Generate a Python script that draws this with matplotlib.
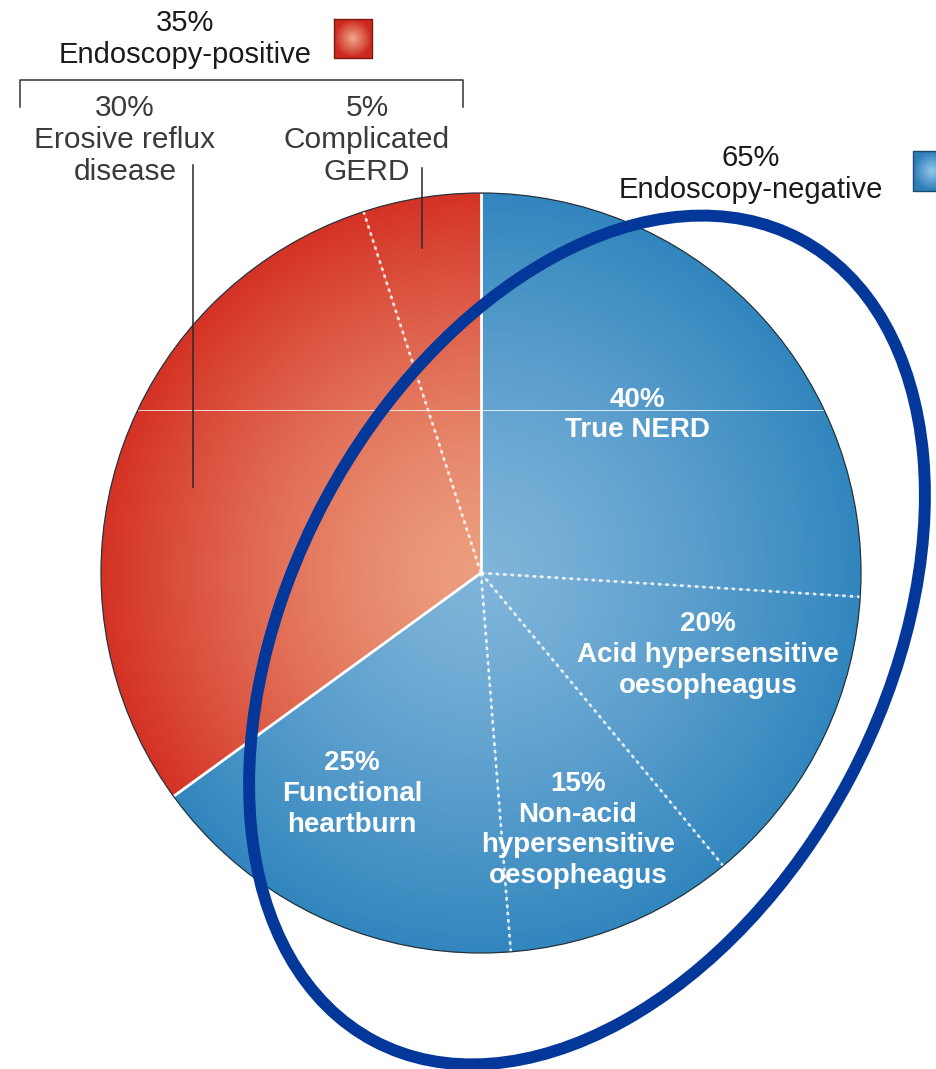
import numpy as np
import matplotlib.pyplot as plt
from matplotlib.patches import Ellipse, Circle

W, H = 936, 1069

# shares of all patients with reflux symptoms
group_names = ["Endoscopy-positive", "Endoscopy-negative"]
group_share = [35, 65]
positive_names = ["Erosive reflux\ndisease", "Complicated\nGERD"]
positive_share = [30, 5]
# split of the endoscopy-negative group (percent of that group)
negative_names = ["True NERD", "Acid hypersensitive\noesopheagus",
                  "Non-acid\nhypersensitive\noesopheagus", "Functional\nheartburn"]
negative_share = [40, 20, 15, 25]

RED_IN, RED_OUT = (236, 158, 126), (212, 50, 36)
BLUE_IN, BLUE_OUT = (128, 181, 218), (50, 134, 190)
FONT = ["Liberation Sans", "DejaVu Sans"]


def py(y):
    # image rows run downwards, axes y runs upwards
    return H - y


def radial(inner, outer, n=500, power=1.25):
    g = np.linspace(-1, 1, n)
    xx, yy = np.meshgrid(g, g)
    t = np.clip(np.hypot(xx, yy), 0, 1)[..., None] ** power
    a = np.array(inner) / 255.0
    b = np.array(outer) / 255.0
    return a + (b - a) * t


fig = plt.figure(figsize=(W / 100, H / 100), dpi=100)
ax = fig.add_axes([0, 0, 1, 1])

cx, cy, R = 481, py(573), 380
sizes = [group_share[1] * s / 100 for s in negative_share] + positive_share
wedges, _ = ax.pie(sizes, startangle=90, counterclock=False,
                   center=(cx, cy), radius=R,
                   wedgeprops=dict(linewidth=0, facecolor="none"))
n_neg = len(negative_share)

red_img = radial(RED_IN, RED_OUT, power=1.4)
blue_img = radial(BLUE_IN, BLUE_OUT)
for i, w in enumerate(wedges):
    img = blue_img if i < n_neg else red_img
    im = ax.imshow(img, extent=(cx - R, cx + R, cy - R, cy + R),
                   origin="lower", zorder=1, interpolation="bilinear")
    im.set_clip_path(w)

# slice borders: solid between the two groups, dotted inside a group
for i, w in enumerate(wedges):
    a = np.deg2rad(w.theta1)
    xs = [cx, cx + R * np.cos(a)]
    ys = [cy, cy + R * np.sin(a)]
    if i in (n_neg - 1, len(wedges) - 1):
        ax.plot(xs, ys, color="white", lw=2.0, zorder=3, solid_capstyle="butt")
    else:
        ax.plot(xs, ys, color="white", lw=1.9, ls=(0, (1.3, 1.5)), alpha=0.85,
                zorder=3)

ax.add_patch(Circle((cx, cy), R, fill=False, ec="#24323c", lw=0.9, zorder=4))

# thin light streak across the pie
streak, = ax.plot([cx - R, cx + R], [py(410), py(410)], color="white",
                  lw=0.7, alpha=0.8, zorder=3)
streak.set_clip_path(Circle((cx, cy), R, transform=ax.transData))

# labels inside the slices
inner_pos = [(637, 415), (708, 655), (578, 830), (352, 794)]
for name, share, (x, y) in zip(negative_names, negative_share, inner_pos):
    ax.text(x, py(y), f"{share}%\n{name}", ha="center", va="center",
            color="white", fontsize=20, fontweight="bold", family=FONT,
            linespacing=1.24, zorder=5)

# endoscopy-positive bracket and labels
ax.plot([20, 20, 463, 463], [py(107), py(80), py(80), py(107)],
        color="#333333", lw=1.1)
ax.text(185, py(39), f"{group_share[0]}%\n{group_names[0]}", ha="center",
        va="center", fontsize=21, color="#1a1a1a", family=FONT,
        linespacing=1.19)
ax.text(125, py(140), f"{positive_share[0]}%\n{positive_names[0]}",
        ha="center", va="center", fontsize=21.5, color="#3a3a3a",
        family=FONT, linespacing=1.2)
ax.text(367, py(140), f"{positive_share[1]}%\n{positive_names[1]}",
        ha="center", va="center", fontsize=21.5, color="#3a3a3a",
        family=FONT, linespacing=1.2)
ax.plot([193, 193], [py(165), py(487)], color="#2a2a2a", lw=1.1, zorder=5)
ax.plot([422, 422], [py(168), py(248)], color="#2a2a2a", lw=1.1, zorder=5)

ax.text(751, py(174), f"{group_share[1]}%\n{group_names[1]}", ha="center",
        va="center", fontsize=21, color="#1a1a1a", family=FONT,
        linespacing=1.19)

# legend swatches
sw = radial((240, 170, 140), (205, 40, 30), n=60, power=1.0)
ax.imshow(sw, extent=(334, 372, py(58), py(19)), origin="lower", zorder=2)
ax.plot([334, 372, 372, 334, 334], [py(19), py(19), py(58), py(58), py(19)],
        color="#7a1a10", lw=1.0, zorder=3)
sw = radial((150, 200, 235), (45, 125, 185), n=60, power=1.0)
ax.imshow(sw, extent=(913, 951, py(191), py(151)), origin="lower", zorder=2)
ax.plot([951, 913, 913, 951], [py(151), py(151), py(191), py(191)],
        color="#1d4a70", lw=1.0, zorder=3)

# highlight ring around the endoscopy-negative part
ax.add_patch(Ellipse((587, py(640)), 908, 594, angle=62.0, fill=False,
                     ec="#04379a", lw=8.6, zorder=6))

ax.set_xlim(0, W)
ax.set_ylim(0, H)
ax.set_aspect("auto")
ax.axis("off")
fig.savefig("out.png", dpi=100, facecolor="white")
